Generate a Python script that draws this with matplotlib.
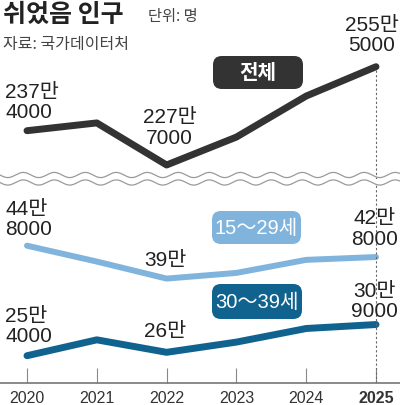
import numpy as np
import matplotlib
matplotlib.use("Agg")
import matplotlib.pyplot as plt
from matplotlib import font_manager
from matplotlib.patches import FancyBboxPatch
from matplotlib.lines import Line2D

# data
years = [2020, 2021, 2022, 2023, 2024, 2025]
total = [2374000, 2396000, 2277000, 2356000, 2472000, 2555000]
age_15_29 = [448000, 420000, 390000, 400000, 423000, 428000]
age_30_39 = [254000, 282000, 260000, 278000, 302000, 309000]
labeled = [0, 2, 5]   # which years get a value label

names = {f.name for f in font_manager.fontManager.ttflist}
num_font = 'Liberation Sans Narrow' if 'Liberation Sans Narrow' in names else 'Liberation Sans'
KR = 'Noto Sans CJK KR'
fam = [num_font, KR, 'DejaVu Sans']
plt.rcParams['font.family'] = fam

W, H = 400, 406
fig = plt.figure(figsize=(4.0, 4.06), dpi=100)

def fx(x):
    return x / W

def fy(y):
    return 1 - y / H

def won(v):
    man, rest = divmod(v, 10000)
    return f"{man}만" if rest == 0 else f"{man}만\n{rest}"

per = (376 - 27) / 5
xlim = (2020 - 27 / per, 2025 + 24 / per)

# top panel: total
ax1 = fig.add_axes([0, fy(180), 1, 180 / H])
ax1.set_xlim(xlim)
ax1.set_ylim(2237400, 2746500)
ax1.axis('off')

# bottom panel: by age
ax2 = fig.add_axes([0, fy(384), 1, (384 - 186) / H])
ax2.set_xlim(xlim)
ax2.set_ylim(205900, 555000)
for s in ['top', 'left', 'right']:
    ax2.spines[s].set_visible(False)
ax2.spines['bottom'].set_color('#777777')
ax2.spines['bottom'].set_linewidth(1.2)
ax2.set_yticks([])
ax2.set_xticks(years)
ax2.set_xticklabels([str(y) for y in years], fontsize=11.5, color='#333333')
ax2.get_xticklabels()[-1].set_fontweight('bold')
ax2.tick_params(axis='x', direction='in', length=11, width=0.8, color='#888888', pad=5)

col_total = '#333333'
col_young = '#80b4dc'
col_30 = '#11638f'

ax1.plot(years, total, color=col_total, lw=5, solid_capstyle='round', clip_on=False)
ax2.plot(years, age_15_29, color=col_young, lw=4.3, solid_capstyle='round', clip_on=False)
ax2.plot(years, age_30_39, color=col_30, lw=5, solid_capstyle='round', clip_on=False)

# dotted guide at 2025
ax1.vlines(years[-1], 2237400, total[-1] - 8000, color='#666666', lw=0.8, linestyles=(0, (2, 2)))
ax2.vlines(years[-1], 205900, 555000, color='#666666', lw=0.8, linestyles=(0, (2, 2)))

# value labels: (dx, dy) pixel offsets for first / middle / last label
offs = {
    'total': [(-22, 29), (3, 38), (-4, 32)],
    'young': [(-22, 27), (-1, 19), (-1, 29)],
    'thirty': [(-22, 30), (-1, 22), (-2, 24)],
}
for ax, series, key in [(ax1, total, 'total'), (ax2, age_15_29, 'young'), (ax2, age_30_39, 'thirty')]:
    for n, i in enumerate(labeled):
        dx, dy = offs[key][n]
        ax.annotate(won(series[i]), (years[i], series[i]), xytext=(dx, dy),
                    textcoords='offset pixels', ha='left' if n == 0 else 'center',
                    va='center', fontsize=15, color='#222222', linespacing=1.1,
                    annotation_clip=False)

# series name boxes
boxes = [
    ('전체', 213, 57, 90, 33, col_total, 'bold'),
    ('15～29세', 212, 212, 89, 33, col_young, 'normal'),
    ('30～39세', 212, 285, 90, 35, col_30, 'normal'),
]
for txt, x0, y0, w, h, c, wt in boxes:
    p = FancyBboxPatch((fx(x0), fy(y0 + h)), w / W, h / H,
                       boxstyle='round,pad=0,rounding_size=0.022',
                       transform=fig.transFigure, fc=c, ec='none', mutation_aspect=W / H)
    fig.add_artist(p)
    fig.text(fx(x0 + w / 2), fy(y0 + h / 2), txt, ha='center', va='center',
             fontsize=14.5, color='white', fontweight=wt)

# axis break waves
xs = np.linspace(0, W, 400)
for yc in [176, 183.5]:
    ys = yc + 2.6 * np.sin(2 * np.pi * xs / 31)
    fig.add_artist(Line2D(fx(xs), fy(ys), transform=fig.transFigure, color='#9a9a9a', lw=0.9))

# titles
fig.text(fx(3), fy(15), '쉬었음 인구', fontsize=18, fontweight='bold', color='#222222',
         ha='left', va='center', family=[KR])
fig.text(fx(148), fy(16), '단위: 명', fontsize=11, color='#444444', ha='left', va='center', family=[KR])
fig.text(fx(3), fy(44), '자료: 국가데이터처', fontsize=11.5, color='#444444', ha='left', va='center', family=[KR])

fig.savefig('out.png', dpi=100)
